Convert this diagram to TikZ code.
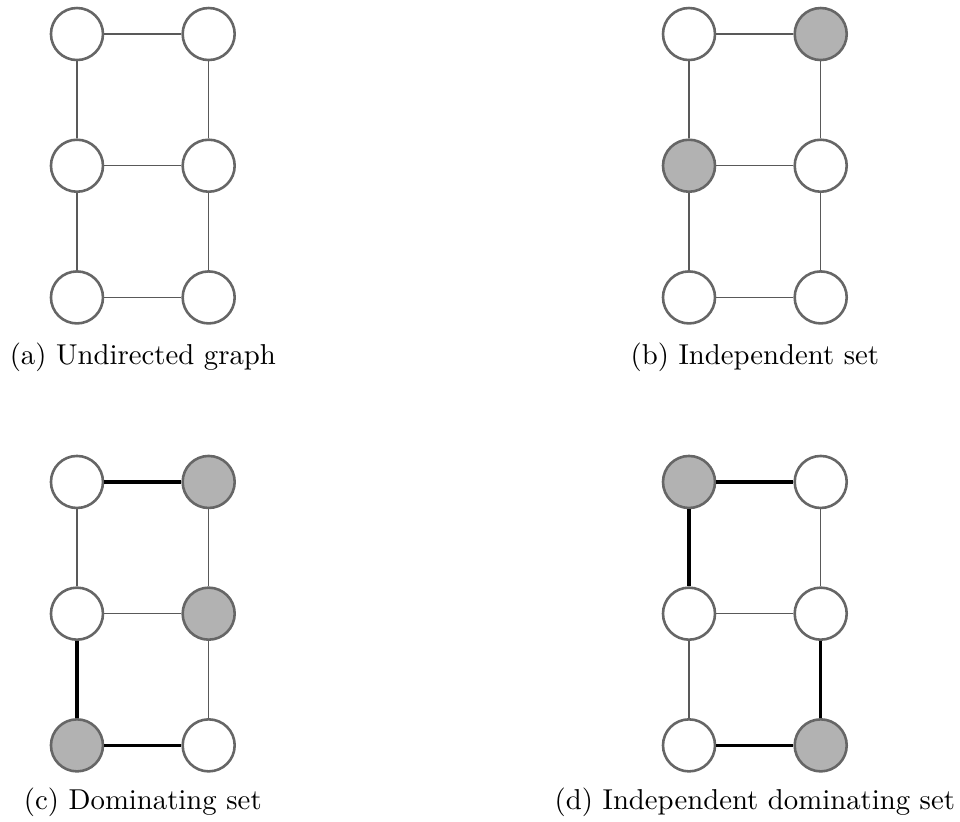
\documentclass[tikz,border=0pt]{standalone}
\usetikzlibrary{positioning}

\tikzset{
	vert/.style={circle, draw=black!60, line width=0.9pt, fill=white, minimum size=0.636cm, inner sep=0pt},
	pick/.style={vert, fill=black!30},
	thin edge/.style={draw=black!65, line width=0.45pt},
	thick edge/.style={draw=black, line width=1.15pt},
	caption/.style={anchor=base, inner sep=0pt}
}

\begin{document}
\begin{tikzpicture}
	\useasboundingbox (0,0) rectangle (11.736,-10.037);

	% (a) plain graph
	\begin{scope}[shift={(0.941,-0.416)}]
		\node[vert] (a1) at (0,0){};
		\node[vert] (a2) at (1.61,0){};
		\node[vert] (a3) at (0,-1.61){};
		\node[vert] (a4) at (1.61,-1.61){};
		\node[vert] (a5) at (0,-3.22){};
		\node[vert] (a6) at (1.61,-3.22){};
		\draw[thin edge] (a1) -- (a2);
		\draw[thin edge] (a1) -- (a3);
		\draw[thin edge] (a2) -- (a4);
		\draw[thin edge] (a3) -- (a4);
		\draw[thin edge] (a3) -- (a5);
		\draw[thin edge] (a4) -- (a6);
		\draw[thin edge] (a5) -- (a6);
		\node[caption] (acap) at (0.805,-4.04) {(a) Undirected graph};
	\end{scope}

	% (b) independent set
	\begin{scope}[shift={(8.423,-0.416)}]
		\node[vert] (b1) at (0,0){};
		\node[pick] (b2) at (1.61,0){};
		\node[pick] (b3) at (0,-1.61){};
		\node[vert] (b4) at (1.61,-1.61){};
		\node[vert] (b5) at (0,-3.22){};
		\node[vert] (b6) at (1.61,-3.22){};
		\draw[thin edge] (b1) -- (b2);
		\draw[thin edge] (b1) -- (b3);
		\draw[thin edge] (b2) -- (b4);
		\draw[thin edge] (b3) -- (b4);
		\draw[thin edge] (b3) -- (b5);
		\draw[thin edge] (b4) -- (b6);
		\draw[thin edge] (b5) -- (b6);
		\node[caption] (bcap) at (0.805,-4.04) {(b) Independent set};
	\end{scope}

	% (c) dominating set
	\begin{scope}[shift={(0.941,-5.892)}]
		\node[vert] (c1) at (0,0){};
		\node[pick] (c2) at (1.61,0){};
		\node[vert] (c3) at (0,-1.61){};
		\node[pick] (c4) at (1.61,-1.61){};
		\node[pick] (c5) at (0,-3.22){};
		\node[vert] (c6) at (1.61,-3.22){};
		\draw[thick edge] (c1) -- (c2);
		\draw[thin edge] (c1) -- (c3);
		\draw[thin edge] (c2) -- (c4);
		\draw[thin edge] (c3) -- (c4);
		\draw[thick edge] (c3) -- (c5);
		\draw[thin edge] (c4) -- (c6);
		\draw[thick edge] (c5) -- (c6);
		\node[caption] (ccap) at (0.805,-4.01) {(c) Dominating set};
	\end{scope}

	% (d) independent dominating set
	\begin{scope}[shift={(8.423,-5.892)}]
		\node[pick] (d1) at (0,0){};
		\node[vert] (d2) at (1.61,0){};
		\node[vert] (d3) at (0,-1.61){};
		\node[vert] (d4) at (1.61,-1.61){};
		\node[vert] (d5) at (0,-3.22){};
		\node[pick] (d6) at (1.61,-3.22){};
		\draw[thick edge] (d1) -- (d2);
		\draw[thick edge] (d1) -- (d3);
		\draw[thin edge] (d2) -- (d4);
		\draw[thin edge] (d3) -- (d4);
		\draw[thin edge] (d3) -- (d5);
		\draw[thick edge] (d4) -- (d6);
		\draw[thick edge] (d5) -- (d6);
		\node[caption] (dcap) at (0.805,-4.01) {(d) Independent dominating set};
	\end{scope}
\end{tikzpicture}
\end{document}
